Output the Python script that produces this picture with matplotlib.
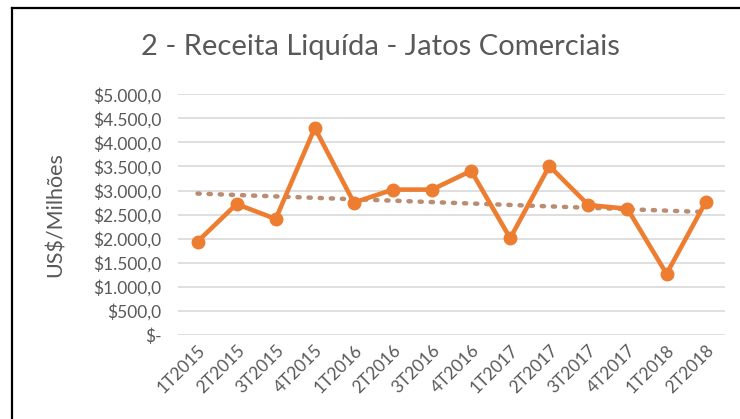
import numpy as np
import matplotlib
matplotlib.use("Agg")
import matplotlib.pyplot as plt
from matplotlib.lines import Line2D
from matplotlib.ticker import FuncFormatter

quarters = ["1T2015", "2T2015", "3T2015", "4T2015", "1T2016", "2T2016", "3T2016",
            "4T2016", "1T2017", "2T2017", "3T2017", "4T2017", "1T2018", "2T2018"]
receita = [1940, 2720, 2410, 4300, 2750, 3020, 3020,
           3410, 2010, 3510, 2700, 2620, 1270, 2760]
y_ticks = [0, 500, 1000, 1500, 2000, 2500, 3000, 3500, 4000, 4500, 5000]

plt.rcParams['font.family'] = ['Lato', 'DejaVu Sans']

ORANGE = '#ED7D31'
GRAY_TXT = '#595959'


def brl(v, pos=None):
    # Excel style: $5.000,0 and "$-" for zero
    if v == 0:
        return '$-'
    s = f"{v:,.1f}".replace(",", "X").replace(".", ",").replace("X", ".")
    return '$' + s


fig = plt.figure(figsize=(7.4, 4.19), dpi=100)
ax = fig.add_axes([0.2405, 0.2005, 0.7395, 0.5745])

x = np.arange(len(quarters))
ax.plot(x, receita, color=ORANGE, lw=3.3, marker='o', ms=9, zorder=3)

# linear trendline
k, b = np.polyfit(x, receita, 1)
ax.plot(x, k * x + b, color='#BA8C72', lw=3.2, ls=(0, (0.5, 2.0)),
        dash_capstyle='round', zorder=2)

ax.set_xlim(-0.5, len(quarters) - 0.5)
ax.set_ylim(0, 5000)
ax.set_yticks(y_ticks)
ax.yaxis.set_major_formatter(FuncFormatter(brl))
ax.set_xticks(x)
ax.set_xticklabels(quarters, rotation=45, ha='right', va='top',
                   rotation_mode='anchor')

ax.grid(axis='y', color='#D9D9D9', lw=1.2)
ax.set_axisbelow(True)
for sp in ax.spines.values():
    sp.set_visible(False)
ax.tick_params(length=0, colors=GRAY_TXT, labelsize=12.5)
ax.tick_params(axis='y', pad=12)
ax.tick_params(axis='x', pad=5)

ax.set_ylabel('US$/Milhões', fontsize=15.5, color=GRAY_TXT)
ax.yaxis.set_label_coords(-0.205, 0.5)
fig.text(0.514, 0.888, '2 - Receita Liquída - Jatos Comerciais', ha='center',
         va='center', fontsize=21, color=GRAY_TXT)

# black frame on left and top (cropped chart border)
fig.add_artist(Line2D([11.5 / 740, 11.5 / 740], [0, 1 - 8.5 / 419],
                      color='black', lw=1.6))
fig.add_artist(Line2D([11.5 / 740, 1], [1 - 8.5 / 419, 1 - 8.5 / 419],
                      color='black', lw=1.6))

fig.savefig('out.png', dpi=100)
